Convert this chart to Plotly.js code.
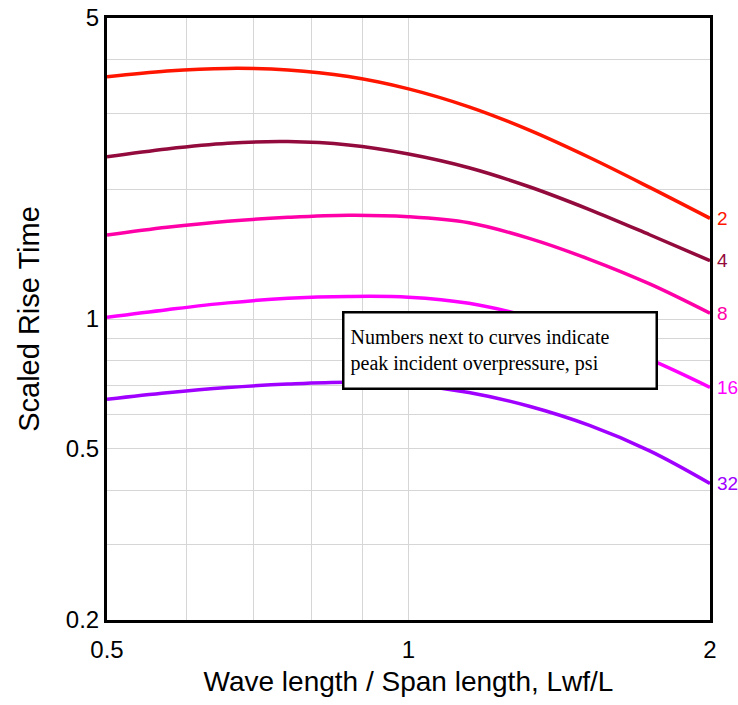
<!DOCTYPE html>
<html>
<head>
<meta charset="utf-8">
<script src="https://cdn.plot.ly/plotly-3.0.1.min.js"></script>
<style>html,body{margin:0;padding:0;background:#fff;}#chart{width:738px;height:705px;}</style>
</head>
<body>
<div id="chart"></div>
<script>
// Wave length / span length ratio
const ratio = [0.5, 0.574, 0.66, 0.758, 0.871, 1.0, 1.149, 1.32, 1.516, 1.741, 2.0];
// Scaled rise time per peak incident overpressure (psi)
const psi2  = [3.65, 3.765, 3.819, 3.788, 3.656, 3.423, 3.109, 2.745, 2.371, 2.021, 1.713];
const psi4  = [2.382, 2.483, 2.559, 2.582, 2.535, 2.416, 2.245, 2.028, 1.795, 1.569, 1.366];
const psi8  = [1.567, 1.633, 1.687, 1.722, 1.742, 1.728, 1.673, 1.539, 1.376, 1.206, 1.031];
const psi16 = [1.009, 1.051, 1.090, 1.117, 1.128, 1.124, 1.088, 1.012, 0.911, 0.806, 0.694];
const psi32 = [0.651, 0.674, 0.693, 0.706, 0.713, 0.704, 0.675, 0.627, 0.566, 0.494, 0.415];
const seriesNames = ['2', '4', '8', '16', '32'];
const seriesData = [psi2, psi4, psi8, psi16, psi32];
const seriesColors = ['#ff1500', '#930a3c', '#ff00a8', '#ff00ff', '#a000ff'];

const xTickVals = [0.5, 1, 2];
const xMinorVals = [0.6, 0.7, 0.8, 0.9];
const yTickVals = [0.2, 0.5, 1, 5];
const yMinorVals = [0.3, 0.4, 0.6, 0.7, 0.8, 0.9, 2, 3, 4];
const noteText = 'Numbers next to curves indicate<br>peak incident overpressure, psi';

const traces = seriesData.map((ys, i) => ({
  x: ratio, y: ys, type: 'scatter', mode: 'lines', name: seriesNames[i],
  line: {color: seriesColors[i], width: 3.5, shape: 'spline', smoothing: 1},
  hoverinfo: 'skip'
}));

const annotations = seriesData.map((ys, i) => ({
  xref: 'paper', yref: 'y', x: 1, y: Math.log10(ys[ys.length - 1]),
  xanchor: 'left', yanchor: 'middle', xshift: 5, showarrow: false,
  text: seriesNames[i],
  font: {family: 'Liberation Sans, Arial, sans-serif', size: 19, color: seriesColors[i]}
}));
annotations.push({
  xref: 'paper', yref: 'paper', x: 0.651, y: 0.447, xanchor: 'center', yanchor: 'middle',
  showarrow: false, text: noteText, align: 'left',
  width: 299, height: 62, borderpad: 6, borderwidth: 2.5, bordercolor: '#000', bgcolor: '#fff',
  font: {family: 'Liberation Serif, Times New Roman, serif', size: 20, color: '#000'}
});

const layout = {
  width: 738, height: 705,
  margin: {l: 107, r: 28, t: 18, b: 85},
  paper_bgcolor: '#fff', plot_bgcolor: '#fff',
  showlegend: false,
  font: {family: 'Liberation Sans, Arial, sans-serif', color: '#000'},
  xaxis: {
    type: 'log', range: [Math.log10(0.5), Math.log10(2)],
    tickmode: 'array', tickvals: xTickVals, ticktext: xTickVals.map(String),
    ticks: '', showgrid: true, gridcolor: '#d6d6d6', gridwidth: 1,
    minor: {tickmode: 'array', tickvals: xMinorVals, showgrid: true, gridcolor: '#d6d6d6', gridwidth: 1, ticks: ''},
    showline: true, linecolor: '#000', linewidth: 3, mirror: true, zeroline: false,
    tickfont: {size: 24, color: '#000'}, ticklabelstandoff: 6,
    title: {text: 'Wave length / Span length, Lwf/L', font: {size: 28, color: '#000'}, standoff: 10}
  },
  yaxis: {
    type: 'log', range: [Math.log10(0.2), Math.log10(5)],
    tickmode: 'array', tickvals: yTickVals, ticktext: yTickVals.map(String),
    ticks: '', showgrid: true, gridcolor: '#d6d6d6', gridwidth: 1,
    minor: {tickmode: 'array', tickvals: yMinorVals, showgrid: true, gridcolor: '#d6d6d6', gridwidth: 1, ticks: ''},
    showline: true, linecolor: '#000', linewidth: 3, mirror: true, zeroline: false,
    tickfont: {size: 24, color: '#000'},
    title: {text: 'Scaled Rise Time', font: {size: 29, color: '#000'}, standoff: 18}
  },
  annotations: annotations
};

Plotly.newPlot('chart', traces, layout, {displayModeBar: false, staticPlot: true});
</script>
</body>
</html>
